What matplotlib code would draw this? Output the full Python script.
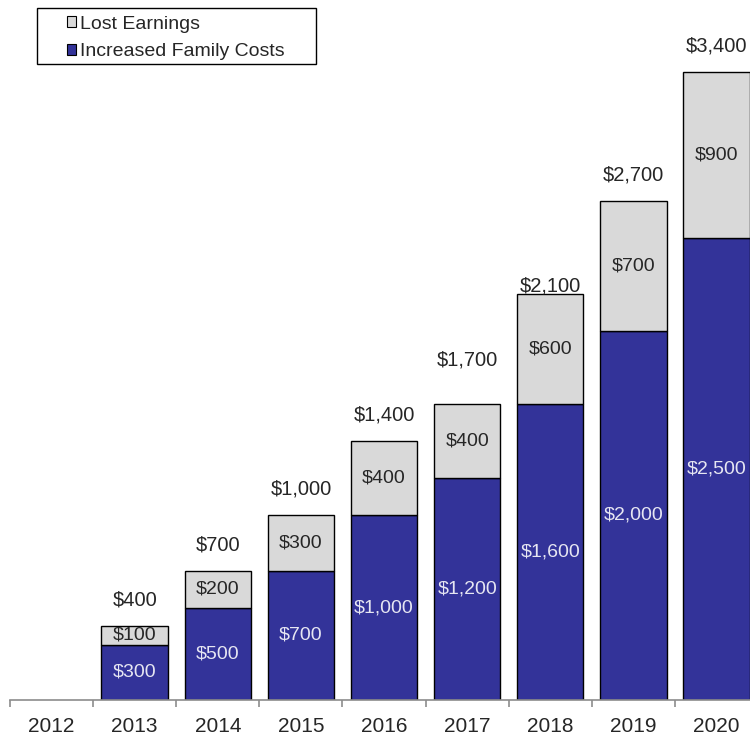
import numpy as np
import matplotlib
matplotlib.use("Agg")
from matplotlib import pyplot as plt
from matplotlib.patches import Patch, Rectangle

plt.rcParams['font.family'] = ['Liberation Sans', 'DejaVu Sans']

years = ["2012", "2013", "2014", "2015", "2016", "2017", "2018", "2019", "2020"]
family_costs = [0, 300, 500, 700, 1000, 1200, 1600, 2000, 2500]
lost_earnings = [0, 100, 200, 300, 400, 400, 600, 700, 900]
totals = [0, 400, 700, 1000, 1400, 1700, 2100, 2700, 3400]

blue = "#333399"
grey = "#d9d9d9"
ink = "#262626"

fig = plt.figure(figsize=(7.5, 7.38), dpi=100)
# axes runs a bit past the right edge so the last bar is clipped
ax = fig.add_axes([10 / 750, 1 - 700 / 738, 748 / 750, 700 / 738])
ax.set_xlim(-0.5, 8.5)
ax.set_ylim(0, 3790)

x = np.arange(len(years))
b1 = ax.bar(x, family_costs, width=0.8, color=blue, edgecolor="black", linewidth=1)
b2 = ax.bar(x, lost_earnings, width=0.8, bottom=family_costs, color=grey,
            edgecolor="black", linewidth=1)

for i in range(len(years)):
    if totals[i] == 0:
        b1[i].set_visible(False)
        b2[i].set_visible(False)
        continue
    ax.text(x[i], family_costs[i] / 2, f"${family_costs[i]:,}", ha="center",
            va="center", fontsize=14, color="#e6e6f2")
    ax.text(x[i], family_costs[i] + lost_earnings[i] / 2, f"${lost_earnings[i]:,}",
            ha="center", va="center", fontsize=14, color=ink)
    ax.annotate(f"${totals[i]:,}", (x[i], totals[i]), xytext=(0, 12),
                textcoords="offset points", ha="center", va="bottom",
                fontsize=14.5, color=ink, annotation_clip=False)

for s in ["top", "right", "left"]:
    ax.spines[s].set_visible(False)
ax.spines["bottom"].set_color("#8c8c8c")
ax.spines["bottom"].set_linewidth(1.2)
ax.set_yticks([])
ax.set_xticks(x)
ax.set_xticklabels(years, fontsize=15, color=ink)
ax.tick_params(axis="x", which="major", length=0, pad=12)
ax.set_xticks(np.arange(-0.5, 9.0, 1.0), minor=True)
ax.tick_params(axis="x", which="minor", length=5, color="#8c8c8c", width=1.2)

# legend with a plain rectangular frame
fig.patches.append(Rectangle((37 / 750, 1 - 64 / 738), 279 / 750, 56 / 738,
                             transform=fig.transFigure, fill=False,
                             edgecolor="black", linewidth=1))
handles = [Patch(facecolor=grey, edgecolor="black", linewidth=0.8),
           Patch(facecolor=blue, edgecolor="black", linewidth=0.8)]
fig.legend(handles, ["Lost Earnings", "Increased Family Costs"],
           loc="upper left", bbox_to_anchor=(53 / 750, 1 - 2 / 738),
           frameon=False, fontsize=14, handlelength=0.5, handleheight=0.5,
           handletextpad=0.2, labelspacing=0.55, borderpad=0.2,
           labelcolor=ink)

fig.savefig("out.png", dpi=100)
